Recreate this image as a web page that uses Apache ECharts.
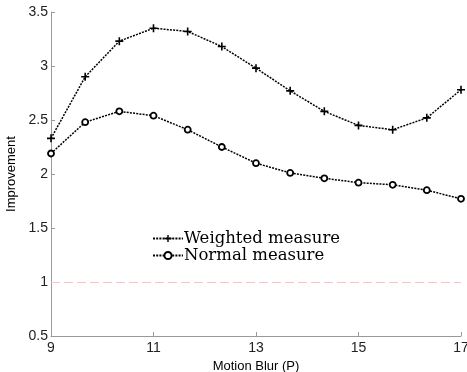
<!DOCTYPE html>
<html><head><meta charset="utf-8">
<script src="https://cdn.jsdelivr.net/npm/echarts@6/dist/echarts.min.js"></script>
<style>html,body{margin:0;padding:0;background:#fff}#c{width:467px;height:372px}</style>
</head><body><div id="c"></div>
<script>
const xValues = [9, 9.667, 10.333, 11, 11.667, 12.333, 13, 13.667, 14.333, 15, 15.667, 16.333, 17];
const weighted = [2.33, 2.90, 3.23, 3.35, 3.32, 3.18, 2.98, 2.77, 2.58, 2.45, 2.41, 2.52, 2.78];
const normal = [2.19, 2.48, 2.58, 2.54, 2.41, 2.25, 2.10, 2.01, 1.96, 1.92, 1.90, 1.85, 1.77];
const baseline = 1;
const seriesNames = ['Weighted measure', 'Normal measure'];

const plus = 'path://M4,0H6V4H10V6H6V10H4V6H0V4H4Z';
const chart = echarts.init(document.getElementById('c'));
const lineStyle = {color: '#000', width: 1.5, type: [2, 1.2]};
chart.setOption({
  animation: false,
  grid: {left: 51, right: 6, top: 12, bottom: 36, outerBoundsMode: 'none', containLabel: false},
  legend: {
    orient: 'vertical', left: 147, top: 225, itemGap: 0, itemWidth: 30, itemHeight: 9,
    textStyle: {fontFamily: 'DejaVu Serif', fontSize: 16.5, color: '#000', padding: [0,0,0,-4]},
    data: seriesNames
  },
  xAxis: {
    type: 'value', min: 9, max: 17, interval: 2,
    name: 'Motion Blur (P)', nameLocation: 'middle', nameGap: 20,
    nameTextStyle: {fontFamily: 'Liberation Sans', fontSize: 13, color: '#000'},
    axisLine: {lineStyle: {color: '#999', width: 1}},
    axisTick: {inside: true, length: 4, lineStyle: {color: '#999'}},
    axisLabel: {fontFamily: 'Liberation Sans', fontSize: 14, color: '#222', margin: 5},
    splitLine: {show: false}
  },
  yAxis: {
    type: 'value', min: 0.5, max: 3.5, interval: 0.5,
    name: 'Improvement', nameLocation: 'middle', nameGap: 28,
    nameTextStyle: {fontFamily: 'Liberation Sans', fontSize: 13, color: '#000'},
    axisLine: {show: true, lineStyle: {color: '#999', width: 1}},
    axisTick: {show: true, inside: true, length: 4, lineStyle: {color: '#999'}},
    axisLabel: {fontFamily: 'Liberation Sans', fontSize: 14, color: '#222', margin: 3},
    splitLine: {show: false}
  },
  series: [
    {
      name: seriesNames[0], type: 'line', data: xValues.map((x, i) => [x, weighted[i]]),
      symbol: plus, symbolSize: 8, itemStyle: {color: '#000'}, lineStyle: lineStyle,
      markLine: {
        silent: true, symbol: 'none', label: {show: false},
        lineStyle: {color: '#ffc0c0', type: [9, 4], width: 1.2},
        data: [{yAxis: baseline}]
      }
    },
    {
      name: seriesNames[1], type: 'line', data: xValues.map((x, i) => [x, normal[i]]),
      symbol: 'circle', symbolSize: 6,
      itemStyle: {color: '#fff', borderColor: '#000', borderWidth: 1.8},
      lineStyle: lineStyle
    }
  ]
});
</script></body></html>
